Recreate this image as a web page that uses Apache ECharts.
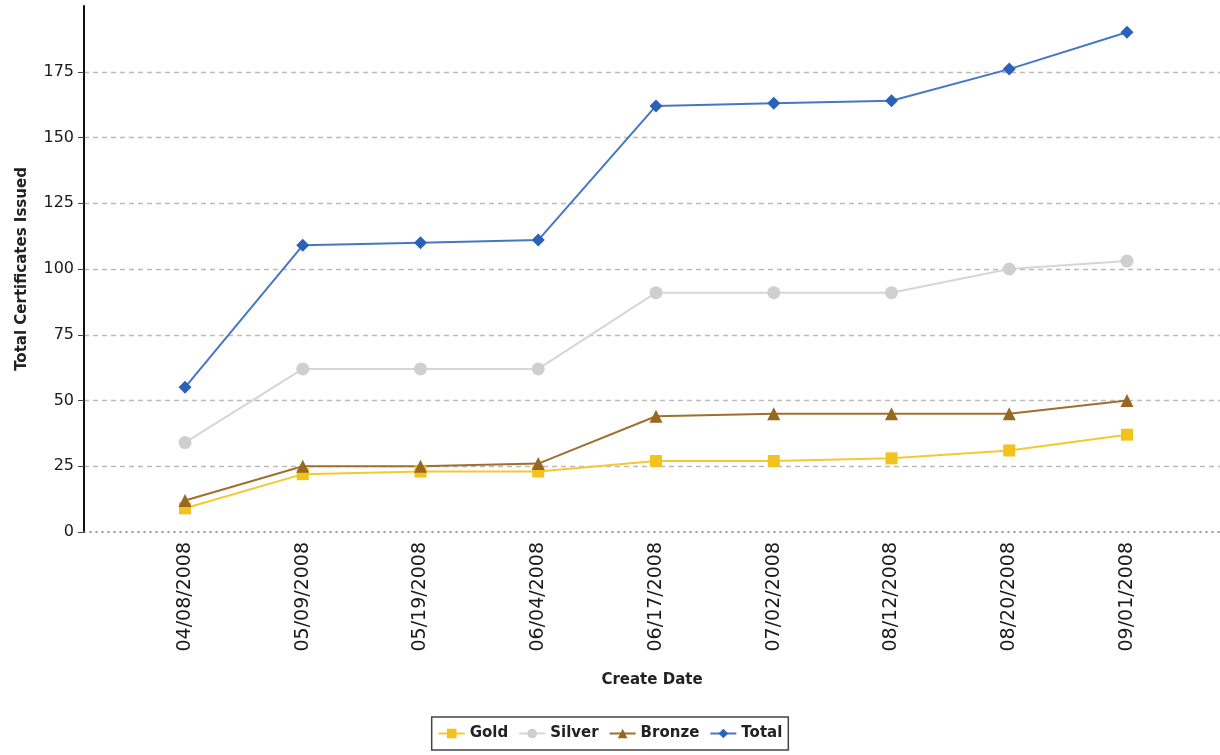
<!DOCTYPE html>
<html>
<head>
<meta charset="utf-8">
<script src="https://cdn.jsdelivr.net/npm/echarts@6/dist/echarts.min.js"></script>
<style>
html,body{margin:0;padding:0;background:#fff;}
#chart{width:1220px;height:755px;}
</style>
</head>
<body>
<div id="chart"></div>
<script>
const categories = ['04/08/2008','05/09/2008','05/19/2008','06/04/2008','06/17/2008','07/02/2008','08/12/2008','08/20/2008','09/01/2008'];
const gold   = [9, 22, 23, 23, 27, 27, 28, 31, 37];
const silver = [34, 62, 62, 62, 91, 91, 91, 100, 103];
const bronze = [12, 25, 25, 26, 44, 45, 45, 45, 50];
const total  = [55, 109, 110, 111, 162, 163, 164, 176, 190];
const yTicks = [0, 25, 50, 75, 100, 125, 150, 175];
const xIdx = categories.map((c, i) => i);

const toPairs = arr => arr.map((v, i) => [i, v]);
const font = '"DejaVu Sans", "Noto Sans", sans-serif';

const chart = echarts.init(document.getElementById('chart'));
function mk(name, data, color, lineColor, symbol, size) {
  return {
    name: name, type: 'line', data: toPairs(data),
    symbol: symbol, symbolSize: size,
    itemStyle: { color: color },
    lineStyle: { color: lineColor, width: 2 },
    emphasis: { disabled: true },
    animation: false
  };
}
chart.setOption({
  backgroundColor: '#fff',
  animation: false,
  grid: { left: 84, right: 0, top: 6, bottom: 223, containLabel: false },
  legend: {
    bottom: 5, left: 'center',
    data: ['Gold','Silver','Bronze','Total'],
    borderColor: '#444', borderWidth: 1.5, borderRadius: 0,
    padding: [9, 6, 9, 6],
    itemGap: 10, itemWidth: 26, itemHeight: 12,
    textStyle: { fontFamily: font, fontSize: 15, color: '#222', fontWeight: 'bold' }
  },
  xAxis: {
    type: 'value', min: -0.858, max: 8.79,
    name: 'Create Date', nameLocation: 'middle', nameGap: 141,
    nameTextStyle: { fontFamily: font, fontSize: 15, fontWeight: 'bold', color: '#222' },
    axisLine: { show: true, onZero: false, lineStyle: { color: '#777', type: [1, 5], width: 1.5 } },
    axisTick: { show: false },
    splitLine: { show: false },
    axisLabel: {
      customValues: xIdx,
      rotate: 90, margin: 10,
      fontFamily: font, fontSize: 19, color: '#1a1a1a',
      formatter: v => categories[Math.round(v)]
    }
  },
  yAxis: {
    type: 'value', min: 0, max: 200,
    name: 'Total Certificates Issued', nameLocation: 'middle', nameGap: 54,
    nameTextStyle: { fontFamily: font, fontSize: 15, fontWeight: 'bold', color: '#222' },
    axisLine: { show: true, onZero: false, lineStyle: { color: '#111', width: 2 } },
    axisTick: { show: true, customValues: yTicks, length: 6, lineStyle: { color: '#444' } },
    axisLabel: { customValues: yTicks, margin: 10, fontFamily: font, fontSize: 16, color: '#1a1a1a' },
    splitLine: { show: true, showMinLine: false, lineStyle: { color: '#bbb', type: [5, 4], width: 1.3 } },
    interval: 25
  },
  series: [
    mk('Gold', gold, '#f2c21f', '#f5c832', 'rect', 12),
    mk('Silver', silver, '#cfcfcf', '#d6d6d6', 'circle', 13),
    mk('Bronze', bronze, '#976820', '#9e7030', 'triangle', 13),
    mk('Total', total, '#2a62b8', '#4677c6', 'diamond', 13)
  ]
});
</script>
</body>
</html>
